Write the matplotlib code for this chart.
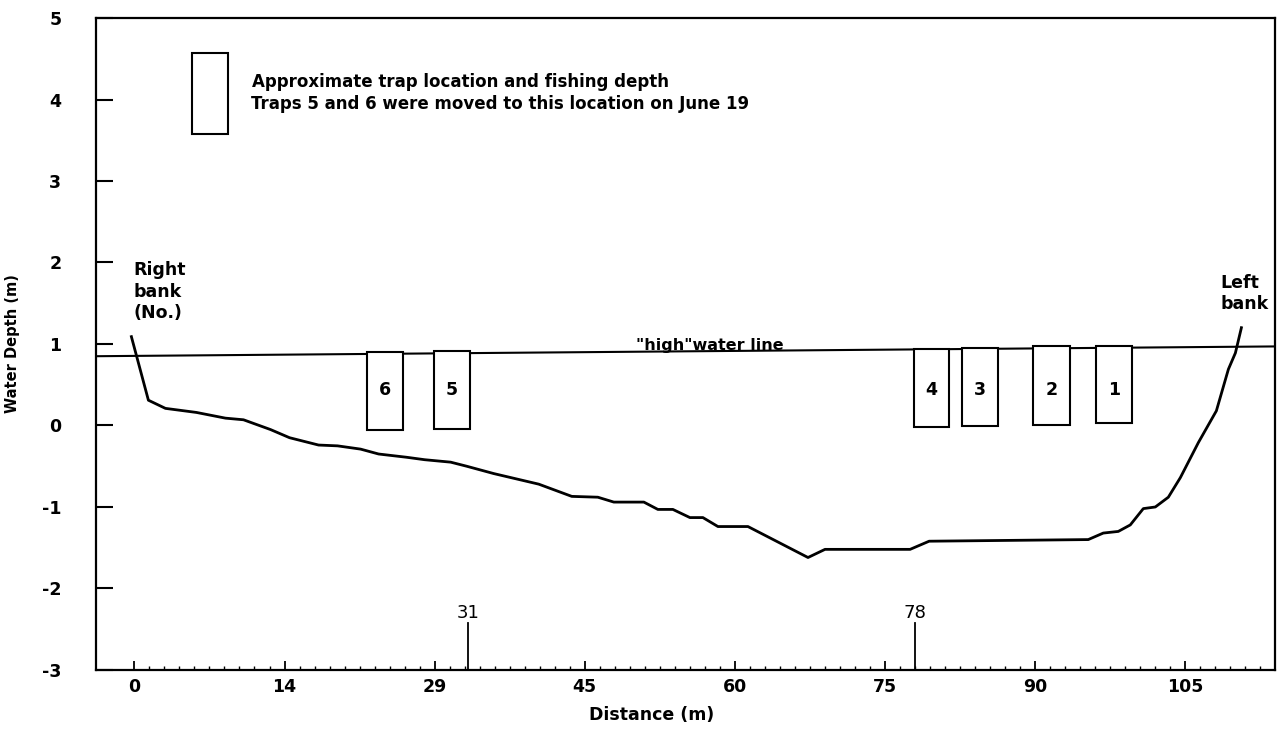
import numpy as np
import matplotlib
matplotlib.use("Agg")
import matplotlib.pyplot as plt

plt.rcParams["axes.unicode_minus"] = False

# tick positions (m) and the labels printed under them
xtick_pos = [0, 15, 30, 45, 60, 75, 90, 105]
xtick_lab = ["0", "14", "29", "45", "60", "75", "90", "105"]
ytick_pos = [-3, -2, -1, 0, 1, 2, 3, 4, 5]

# channel bottom profile
prof_x = [-0.3, 1.4, 3.1, 6.2, 9.1, 10.9, 13.6, 15.5, 18.4, 20.3, 22.6, 24.4,
          27.2, 29.0, 31.6, 33.2, 35.9, 40.4, 43.7, 46.3, 47.9, 50.9, 52.3,
          53.8, 55.5, 56.8, 58.3, 61.3, 67.3, 69.0, 77.5, 79.4, 95.3, 96.8,
          98.3, 99.5, 100.8, 102.0, 103.3, 104.5, 106.3, 108.1, 109.3, 110.0,
          110.6]
prof_y = [1.09, 0.31, 0.21, 0.16, 0.09, 0.07, -0.05, -0.15, -0.24, -0.25,
          -0.29, -0.35, -0.39, -0.42, -0.45, -0.50, -0.59, -0.72, -0.87, -0.88,
          -0.94, -0.94, -1.03, -1.03, -1.13, -1.13, -1.24, -1.24, -1.62, -1.52,
          -1.52, -1.42, -1.40, -1.32, -1.30, -1.22, -1.02, -1.00, -0.88, -0.64,
          -0.21, 0.18, 0.69, 0.89, 1.20]

# "high" water line
water_x = [-3.83, 113.96]
water_y = [0.85, 0.97]

# traps
trap_ids = ["6", "5", "4", "3", "2", "1"]
trap_left = [23.2, 29.9, 77.9, 82.7, 89.8, 96.1]
trap_right = [26.8, 33.5, 81.4, 86.3, 93.5, 99.7]
trap_top = [0.90, 0.91, 0.94, 0.95, 0.97, 0.98]
trap_bottom = [-0.05, -0.04, -0.02, -0.01, 0.01, 0.03]

# marked stations
mark_pos = [33.3, 78.0]
mark_lab = ["31", "78"]

fig = plt.figure(figsize=(12.79, 7.44), dpi=100)
ax = fig.add_axes([0.0751, 0.0995, 0.9218, 0.8763])

ax.set_xlim(-3.83, 113.96)
ax.set_ylim(-3, 5)

# profile and water line
ax.plot(prof_x, prof_y, color="black", lw=2.0)
ax.plot(water_x, water_y, color="black", lw=1.5)
ax.text(57.5, 0.93, '"high"water line', ha="center", va="baseline",
        fontsize=11.5, fontweight="bold")

# trap boxes
tl = np.array(trap_left)
tr = np.array(trap_right)
tt = np.array(trap_top)
tb = np.array(trap_bottom)
ax.bar(tl, tt - tb, width=tr - tl, bottom=tb, align="edge",
       facecolor="white", edgecolor="black", linewidth=1.5, zorder=3)
for i, lab in enumerate(trap_ids):
    ax.text((tl[i] + tr[i]) / 2, 0.44, lab, ha="center", va="center",
            fontsize=12.5, fontweight="bold", zorder=4)

# legend box + text
ax.bar([5.73], [4.57 - 3.58], width=[3.62], bottom=[3.58], align="edge",
       facecolor="white", edgecolor="black", linewidth=1.5)
ax.text(11.75, 4.22, "Approximate trap location and fishing depth",
        ha="left", va="center", fontsize=12, fontweight="bold")
ax.text(11.7, 3.95, "Traps 5 and 6 were moved to this location on June 19",
        ha="left", va="center", fontsize=12, fontweight="bold")

# bank labels
ax.text(-0.1, 1.64, "Right\nbank\n(No.)", ha="left", va="center",
        fontsize=12.5, fontweight="bold", linespacing=1.25)
ax.text(108.5, 1.62, "Left\nbank", ha="left", va="center",
        fontsize=12.5, fontweight="bold", linespacing=1.2)

# station markers
for p, lab in zip(mark_pos, mark_lab):
    ax.plot([p, p], [-3, -2.42], color="black", lw=1.3)
    ax.text(p, -2.30, lab, ha="center", va="center", fontsize=13)

# axes styling
for s in ax.spines.values():
    s.set_linewidth(1.6)
ax.set_xticks(xtick_pos)
ax.set_xticklabels(xtick_lab)
ax.set_xticks(np.arange(0, 114, 1.5), minor=True)
ax.set_yticks(ytick_pos)
ax.tick_params(axis="x", which="major", direction="in", length=6.5, width=1.3,
               pad=6, labelsize=12.5)
ax.tick_params(axis="x", which="minor", direction="in", length=3, width=1.0)
ax.tick_params(axis="y", which="major", direction="in", length=12.5, width=1.5,
               pad=25, labelsize=12.5)
for lab in ax.get_xticklabels() + ax.get_yticklabels():
    lab.set_fontweight("bold")

ax.set_xlabel("Distance (m)", fontsize=12.5, fontweight="bold")
ax.xaxis.set_label_coords(0.471, -0.056)
ax.set_ylabel("Water Depth (m)", fontsize=10.5, fontweight="bold")
ax.yaxis.set_label_coords(-0.0645, 0.5)

fig.savefig("out.png", dpi=100)
